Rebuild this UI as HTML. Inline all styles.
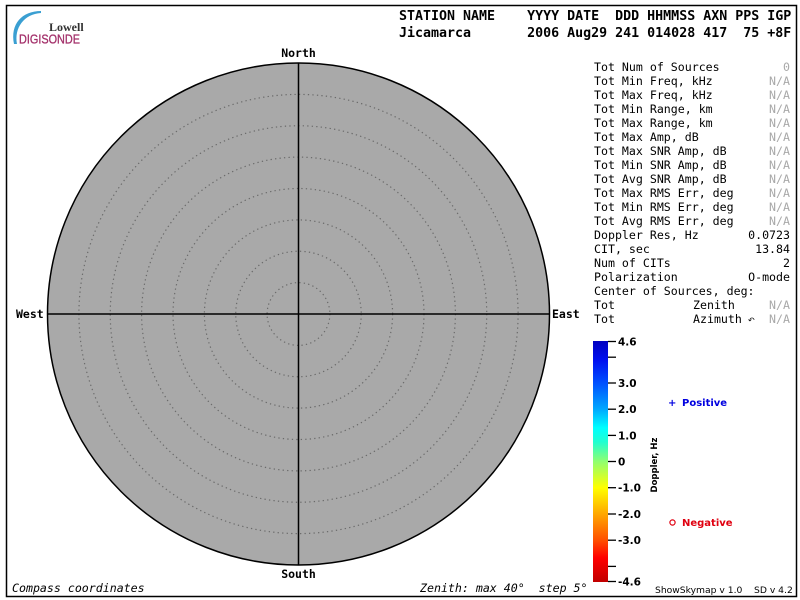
<!DOCTYPE html>
<html>
<head>
<meta charset="utf-8">
<style>
html,body{margin:0;padding:0;background:#fff;}
svg{display:block;}
.hdr{font-family:"DejaVu Sans Mono","Liberation Mono",monospace;font-weight:bold;font-size:13.3px;white-space:pre;}
.mono{font-family:"DejaVu Sans Mono","Liberation Mono",monospace;font-size:11.6px;white-space:pre;}
.na{fill:#a8a8a8;}
.cmp{font-family:"DejaVu Sans Mono","Liberation Mono",monospace;font-weight:bold;font-size:11.5px;}
.tick{font-family:"DejaVu Sans","Liberation Sans",sans-serif;font-weight:bold;font-size:10.5px;}
</style>
</head>
<body>
<svg width="800" height="600" viewBox="0 0 800 600" xmlns="http://www.w3.org/2000/svg">
<defs>
<linearGradient id="cb" x1="0" y1="0" x2="0" y2="1">
<stop offset="0" stop-color="#0000c0"/>
<stop offset="0.08" stop-color="#0010f0"/>
<stop offset="0.174" stop-color="#0050ff"/>
<stop offset="0.283" stop-color="#00a8ff"/>
<stop offset="0.36" stop-color="#00ffff"/>
<stop offset="0.42" stop-color="#20ffd0"/>
<stop offset="0.5" stop-color="#90ff70"/>
<stop offset="0.609" stop-color="#ffff00"/>
<stop offset="0.717" stop-color="#ffa800"/>
<stop offset="0.826" stop-color="#ff5000"/>
<stop offset="0.9" stop-color="#ff0000"/>
<stop offset="1" stop-color="#c00000"/>
</linearGradient>
</defs>
<rect x="0" y="0" width="800" height="600" fill="#fff"/>
<!-- frame -->
<rect x="6.5" y="5.5" width="790" height="591" fill="none" stroke="#000" stroke-width="1.5"/>

<!-- logo -->
<path d="M41 11 C22 11 10 24 14 44 L17 44 C14 28 24 14 41 13 Z" fill="#3a9fd2"/>
<text x="49" y="31" font-family="Liberation Serif,serif" font-size="12" font-weight="bold" fill="#333">Lowell</text>
<text x="19" y="43.5" font-family="Liberation Sans,sans-serif" font-size="12.5" fill="#a3306a" stroke="#a3306a" stroke-width="0.3" textLength="61" lengthAdjust="spacingAndGlyphs">DIGISONDE</text>

<!-- header -->
<text class="hdr" x="399" y="20">STATION NAME    YYYY DATE  DDD HHMMSS AXN PPS IGP</text>
<text class="hdr" x="399" y="37">Jicamarca       2006 Aug29 241 014028 417  75 +8F</text>

<!-- skymap -->
<circle cx="298.5" cy="314" r="251" fill="#a9a9a9" stroke="#000" stroke-width="1.5"/>
<g fill="none" stroke="#6a6a6a" stroke-width="1.2" stroke-dasharray="1.3 3.2">
<circle cx="298.5" cy="314" r="31.4"/>
<circle cx="298.5" cy="314" r="62.75"/>
<circle cx="298.5" cy="314" r="94.1"/>
<circle cx="298.5" cy="314" r="125.5"/>
<circle cx="298.5" cy="314" r="156.9"/>
<circle cx="298.5" cy="314" r="188.25"/>
<circle cx="298.5" cy="314" r="219.6"/>
</g>
<line x1="298.5" y1="63" x2="298.5" y2="565" stroke="#000" stroke-width="1.5"/>
<line x1="47.5" y1="314" x2="549.5" y2="314" stroke="#000" stroke-width="1.5"/>

<text class="cmp" x="298.5" y="57" text-anchor="middle">North</text>
<text class="cmp" x="298.5" y="578" text-anchor="middle">South</text>
<text class="cmp" x="16" y="318">West</text>
<text class="cmp" x="552" y="318">East</text>

<!-- right panel -->
<g class="mono">
<text x="594" y="71">Tot Num of Sources</text><text x="790" y="71" text-anchor="end" class="na">0</text>
<text x="594" y="85">Tot Min Freq, kHz</text><text x="790" y="85" text-anchor="end" class="na">N/A</text>
<text x="594" y="99">Tot Max Freq, kHz</text><text x="790" y="99" text-anchor="end" class="na">N/A</text>
<text x="594" y="113">Tot Min Range, km</text><text x="790" y="113" text-anchor="end" class="na">N/A</text>
<text x="594" y="127">Tot Max Range, km</text><text x="790" y="127" text-anchor="end" class="na">N/A</text>
<text x="594" y="141">Tot Max Amp, dB</text><text x="790" y="141" text-anchor="end" class="na">N/A</text>
<text x="594" y="155">Tot Max SNR Amp, dB</text><text x="790" y="155" text-anchor="end" class="na">N/A</text>
<text x="594" y="169">Tot Min SNR Amp, dB</text><text x="790" y="169" text-anchor="end" class="na">N/A</text>
<text x="594" y="183">Tot Avg SNR Amp, dB</text><text x="790" y="183" text-anchor="end" class="na">N/A</text>
<text x="594" y="197">Tot Max RMS Err, deg</text><text x="790" y="197" text-anchor="end" class="na">N/A</text>
<text x="594" y="211">Tot Min RMS Err, deg</text><text x="790" y="211" text-anchor="end" class="na">N/A</text>
<text x="594" y="225">Tot Avg RMS Err, deg</text><text x="790" y="225" text-anchor="end" class="na">N/A</text>
<text x="594" y="239">Doppler Res, Hz</text><text x="790" y="239" text-anchor="end">0.0723</text>
<text x="594" y="253">CIT, sec</text><text x="790" y="253" text-anchor="end">13.84</text>
<text x="594" y="267">Num of CITs</text><text x="790" y="267" text-anchor="end">2</text>
<text x="594" y="281">Polarization</text><text x="790" y="281" text-anchor="end">O-mode</text>
<text x="594" y="295">Center of Sources, deg:</text>
<text x="594" y="309">Tot</text><text x="693" y="309">Zenith</text><text x="790" y="309" text-anchor="end" class="na">N/A</text>
<text x="594" y="323">Tot</text><text x="693" y="323">Azimuth</text><text x="790" y="323" text-anchor="end" class="na">N/A</text>
</g>
<text x="748" y="323" font-family="DejaVu Sans,sans-serif" font-size="8" fill="#000">↶</text>

<!-- colorbar -->
<rect x="593" y="341" width="15" height="241" fill="url(#cb)"/>
<g stroke="#000" stroke-width="1.3">
<line x1="608" y1="341.5" x2="616" y2="341.5"/>
<line x1="608" y1="357.2" x2="616" y2="357.2"/>
<line x1="608" y1="383" x2="616" y2="383"/>
<line x1="608" y1="409.2" x2="616" y2="409.2"/>
<line x1="608" y1="435.4" x2="616" y2="435.4"/>
<line x1="608" y1="461.5" x2="616" y2="461.5"/>
<line x1="608" y1="487.7" x2="616" y2="487.7"/>
<line x1="608" y1="514" x2="616" y2="514"/>
<line x1="608" y1="540.2" x2="616" y2="540.2"/>
<line x1="608" y1="566.4" x2="616" y2="566.4"/>
<line x1="608" y1="581.5" x2="616" y2="581.5"/>
</g>
<g class="tick">
<text x="618" y="345.5">4.6</text>
<text x="618" y="387">3.0</text>
<text x="618" y="413">2.0</text>
<text x="618" y="439.5">1.0</text>
<text x="618" y="465.5">0</text>
<text x="618" y="491.5">-1.0</text>
<text x="618" y="518">-2.0</text>
<text x="618" y="544">-3.0</text>
<text x="618" y="585.5">-4.6</text>
</g>
<text x="0" y="0" transform="translate(657,465) rotate(-90)" text-anchor="middle" font-family="DejaVu Sans,sans-serif" font-weight="bold" font-size="8.5">Doppler, Hz</text>

<text x="668" y="406" font-family="DejaVu Sans,sans-serif" font-weight="bold" font-size="10" fill="#0000e0">+</text>
<text x="682" y="406" font-family="DejaVu Sans,sans-serif" font-weight="bold" font-size="10" fill="#0000e0">Positive</text>
<circle cx="672.5" cy="522.5" r="2.6" fill="none" stroke="#e00010" stroke-width="1.2"/>
<text x="682" y="526" font-family="DejaVu Sans,sans-serif" font-weight="bold" font-size="10" fill="#e00010">Negative</text>

<!-- footer -->
<text x="12" y="592" font-family="DejaVu Sans Mono,Liberation Mono,monospace" font-style="italic" font-size="11.6" style="white-space:pre">Compass coordinates</text>
<text x="420" y="592" font-family="DejaVu Sans Mono,Liberation Mono,monospace" font-style="italic" font-size="11.6" style="white-space:pre">Zenith: max 40°  step 5°</text>
<text x="655" y="593" font-family="DejaVu Sans,sans-serif" font-size="9.2" style="white-space:pre">ShowSkymap v 1.0</text>
<text x="754" y="593" font-family="DejaVu Sans,sans-serif" font-size="9.2" style="white-space:pre">SD v 4.2</text>
</svg>
</body>
</html>
